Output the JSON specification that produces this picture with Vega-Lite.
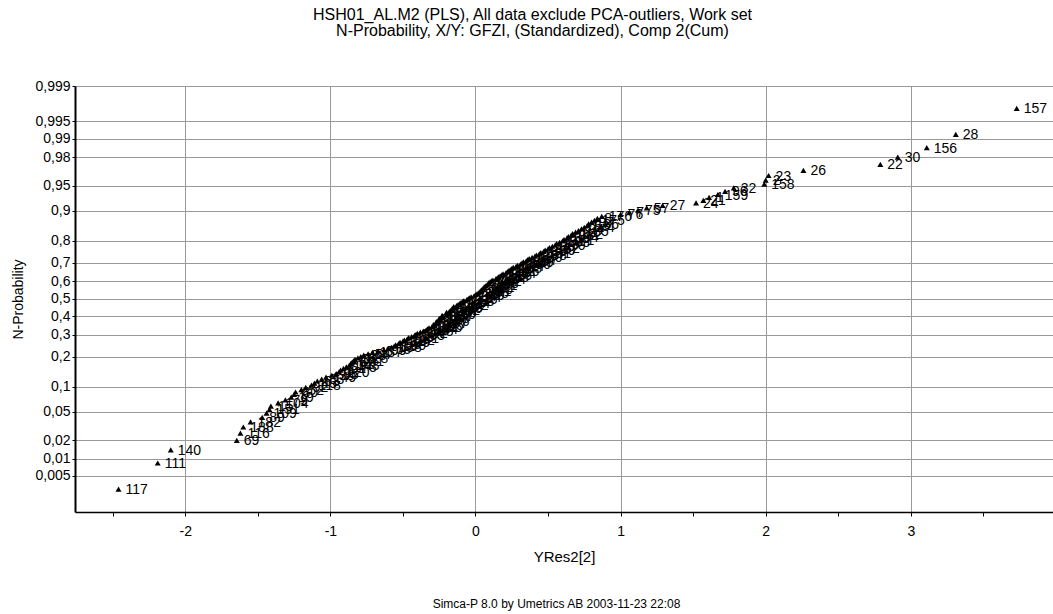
{
"$schema": "https://vega.github.io/schema/vega-lite/v6.json",
"width": 978,
"height": 426,
"autosize": {"type": "none"},
"padding": {"left": 75, "top": 86, "right": 0, "bottom": 102},
"background": "white",
"config": {"font": "Liberation Sans", "view": {"stroke": null}},
"title": {"text": ["HSH01_AL.M2 (PLS), All data exclude PCA-outliers, Work set", "N-Probability, X/Y: GFZI, (Standardized), Comp 2(Cum)"], "anchor": "middle", "frame": "bounds", "fontSize": 16, "fontWeight": "normal", "color": "black", "offset": 40, "lineHeight": 16},
"data": {"values": [
{"obs":"117","res":-2.46,"z":-2.767},{"obs":"111","res":-2.19,"z":-2.388},{"obs":"140","res":-2.10,"z":-2.196},{"obs":"69","res":-1.645,"z":-2.058},{"obs":"116","res":-1.62,"z":-1.953},
{"obs":"188","res":-1.60,"z":-1.865},{"obs":"182","res":-1.55,"z":-1.790},{"obs":"89","res":-1.47,"z":-1.724},{"obs":"109","res":-1.44,"z":-1.664},{"obs":"151","res":-1.42,"z":-1.610},
{"obs":"15","res":-1.41,"z":-1.560},{"obs":"104","res":-1.36,"z":-1.514},{"obs":"79","res":-1.31,"z":-1.471},{"obs":"19","res":-1.27,"z":-1.431},{"obs":"9","res":-1.25,"z":-1.392},
{"obs":"80","res":-1.24,"z":-1.356},{"obs":"52","res":-1.20,"z":-1.321},{"obs":"92","res":-1.17,"z":-1.288},{"obs":"118","res":-1.13,"z":-1.256},{"obs":"45","res":-1.11,"z":-1.226},
{"obs":"63","res":-1.09,"z":-1.196},{"obs":"83","res":-1.06,"z":-1.168},{"obs":"149","res":-1.03,"z":-1.140},{"obs":"38","res":-0.99,"z":-1.113},{"obs":"95","res":-0.96,"z":-1.088},
{"obs":"120","res":-0.94,"z":-1.062},{"obs":"5","res":-0.93,"z":-1.038},{"obs":"61","res":-0.91,"z":-1.014},{"obs":"173","res":-0.89,"z":-0.990},{"obs":"143","res":-0.87,"z":-0.967},
{"obs":"12","res":-0.86,"z":-0.945},{"obs":"67","res":-0.85,"z":-0.923},{"obs":"101","res":-0.84,"z":-0.902},{"obs":"37","res":-0.83,"z":-0.881},{"obs":"128","res":-0.81,"z":-0.860},
{"obs":"4","res":-0.79,"z":-0.840},{"obs":"98","res":-0.77,"z":-0.820},{"obs":"54","res":-0.74,"z":-0.800},{"obs":"137","res":-0.71,"z":-0.781},{"obs":"6","res":-0.67,"z":-0.762},
{"obs":"99","res":-0.63,"z":-0.743},{"obs":"55","res":-0.60,"z":-0.724},{"obs":"138","res":-0.58,"z":-0.706},{"obs":"10","res":-0.56,"z":-0.688},{"obs":"100","res":-0.55,"z":-0.670},
{"obs":"56","res":-0.53,"z":-0.652},{"obs":"139","res":-0.52,"z":-0.635},{"obs":"11","res":-0.50,"z":-0.618},{"obs":"102","res":-0.49,"z":-0.601},{"obs":"58","res":-0.47,"z":-0.584},
{"obs":"141","res":-0.46,"z":-0.567},{"obs":"13","res":-0.44,"z":-0.551},{"obs":"103","res":-0.42,"z":-0.534},{"obs":"59","res":-0.41,"z":-0.518},{"obs":"142","res":-0.40,"z":-0.502},
{"obs":"14","res":-0.38,"z":-0.486},{"obs":"105","res":-0.36,"z":-0.470},{"obs":"60","res":-0.34,"z":-0.454},{"obs":"144","res":-0.33,"z":-0.439},{"obs":"16","res":-0.32,"z":-0.423},
{"obs":"106","res":-0.30,"z":-0.408},{"obs":"62","res":-0.28,"z":-0.392},{"obs":"145","res":-0.29,"z":-0.377},{"obs":"17","res":-0.27,"z":-0.362},{"obs":"107","res":-0.26,"z":-0.347},
{"obs":"64","res":-0.27,"z":-0.332},{"obs":"146","res":-0.25,"z":-0.317},{"obs":"18","res":-0.24,"z":-0.302},{"obs":"108","res":-0.25,"z":-0.287},{"obs":"65","res":-0.23,"z":-0.272},
{"obs":"147","res":-0.22,"z":-0.258},{"obs":"20","res":-0.23,"z":-0.243},{"obs":"110","res":-0.20,"z":-0.229},{"obs":"66","res":-0.19,"z":-0.214},{"obs":"148","res":-0.20,"z":-0.200},
{"obs":"25","res":-0.18,"z":-0.185},{"obs":"112","res":-0.17,"z":-0.171},{"obs":"68","res":-0.16,"z":-0.157},{"obs":"150","res":-0.16,"z":-0.142},{"obs":"29","res":-0.14,"z":-0.128},
{"obs":"113","res":-0.15,"z":-0.114},{"obs":"70","res":-0.13,"z":-0.099},{"obs":"152","res":-0.12,"z":-0.085},{"obs":"31","res":-0.11,"z":-0.071},{"obs":"114","res":-0.10,"z":-0.057},
{"obs":"71","res":-0.09,"z":-0.042},{"obs":"153","res":-0.08,"z":-0.028},{"obs":"33","res":-0.06,"z":-0.014},{"obs":"115","res":-0.05,"z":0.000},{"obs":"72","res":-0.04,"z":0.014},
{"obs":"154","res":-0.03,"z":0.028},{"obs":"34","res":-0.01,"z":0.042},{"obs":"119","res":0.00,"z":0.057},{"obs":"73","res":0.01,"z":0.071},{"obs":"155","res":0.02,"z":0.085},
{"obs":"35","res":0.03,"z":0.099},{"obs":"121","res":0.04,"z":0.114},{"obs":"74","res":0.04,"z":0.128},{"obs":"160","res":0.05,"z":0.142},{"obs":"36","res":0.06,"z":0.157},
{"obs":"122","res":0.06,"z":0.171},{"obs":"77","res":0.07,"z":0.185},{"obs":"161","res":0.08,"z":0.200},{"obs":"39","res":0.09,"z":0.214},{"obs":"123","res":0.09,"z":0.229},
{"obs":"78","res":0.10,"z":0.243},{"obs":"162","res":0.11,"z":0.258},{"obs":"40","res":0.12,"z":0.272},{"obs":"124","res":0.14,"z":0.287},{"obs":"81","res":0.15,"z":0.302},
{"obs":"163","res":0.16,"z":0.317},{"obs":"41","res":0.17,"z":0.332},{"obs":"125","res":0.18,"z":0.347},{"obs":"82","res":0.19,"z":0.362},{"obs":"164","res":0.21,"z":0.377},
{"obs":"42","res":0.22,"z":0.392},{"obs":"126","res":0.23,"z":0.408},{"obs":"84","res":0.24,"z":0.423},{"obs":"165","res":0.25,"z":0.439},{"obs":"43","res":0.26,"z":0.454},
{"obs":"127","res":0.28,"z":0.470},{"obs":"85","res":0.29,"z":0.486},{"obs":"166","res":0.31,"z":0.502},{"obs":"44","res":0.32,"z":0.518},{"obs":"129","res":0.33,"z":0.534},
{"obs":"86","res":0.35,"z":0.551},{"obs":"167","res":0.36,"z":0.567},{"obs":"46","res":0.37,"z":0.584},{"obs":"130","res":0.39,"z":0.601},{"obs":"87","res":0.41,"z":0.618},
{"obs":"168","res":0.42,"z":0.635},{"obs":"47","res":0.44,"z":0.652},{"obs":"131","res":0.45,"z":0.670},{"obs":"88","res":0.47,"z":0.688},{"obs":"169","res":0.48,"z":0.706},
{"obs":"48","res":0.50,"z":0.724},{"obs":"132","res":0.51,"z":0.743},{"obs":"90","res":0.53,"z":0.762},{"obs":"170","res":0.55,"z":0.781},{"obs":"49","res":0.56,"z":0.800},
{"obs":"133","res":0.58,"z":0.820},{"obs":"91","res":0.60,"z":0.840},{"obs":"171","res":0.61,"z":0.860},{"obs":"50","res":0.63,"z":0.881},{"obs":"134","res":0.64,"z":0.902},
{"obs":"93","res":0.66,"z":0.923},{"obs":"172","res":0.67,"z":0.945},{"obs":"51","res":0.69,"z":0.967},{"obs":"135","res":0.71,"z":0.990},{"obs":"94","res":0.73,"z":1.014},
{"obs":"174","res":0.75,"z":1.038},{"obs":"53","res":0.77,"z":1.062},{"obs":"136","res":0.78,"z":1.088},{"obs":"97","res":0.80,"z":1.113},{"obs":"175","res":0.82,"z":1.140},
{"obs":"8","res":0.84,"z":1.168},{"obs":"176","res":0.87,"z":1.196},{"obs":"76","res":1.00,"z":1.226},{"obs":"7","res":1.06,"z":1.256},{"obs":"75","res":1.12,"z":1.288},
{"obs":"57","res":1.18,"z":1.321},{"obs":"27","res":1.29,"z":1.356},{"obs":"24","res":1.52,"z":1.392},{"obs":"21","res":1.57,"z":1.430},{"obs":"1","res":1.61,"z":1.471},
{"obs":"159","res":1.67,"z":1.514},{"obs":"96","res":1.72,"z":1.560},{"obs":"32","res":1.78,"z":1.610},{"obs":"158","res":1.99,"z":1.664},{"obs":"2","res":2.00,"z":1.724},
{"obs":"23","res":2.02,"z":1.790},{"obs":"26","res":2.26,"z":1.865},{"obs":"22","res":2.79,"z":1.953},{"obs":"30","res":2.91,"z":2.058},{"obs":"156","res":3.11,"z":2.196},
{"obs":"28","res":3.31,"z":2.388},{"obs":"157","res":3.73,"z":2.767}
]},
"layer": [
{"mark": {"type": "point", "shape": "triangle-up", "filled": true, "size": 36, "color": "black", "opacity": 1},
 "encoding": {
  "x": {"field": "res", "type": "quantitative",
        "scale": {"domain": [-2.76, 3.98], "nice": false, "zero": false},
        "axis": {"values": [-2.5, -2, -1.5, -1, -0.5, 0, 0.5, 1, 1.5, 2, 2.5, 3, 3.5], "tickCount": 100,
                 "labelExpr": "datum.value % 1 === 0 ? '' + datum.value : ''",
                 "title": "YRes2[2]", "grid": true, "gridColor": "#999999", "gridWidth": 1,
                 "gridOpacity": {"condition": {"test": "datum.value % 1 !== 0", "value": 0}, "value": 1},
                 "domainColor": "black", "domainWidth": 1.5, "tickColor": "black", "tickSize": 4, "tickWidth": 1,
                 "labelFontSize": 14, "labelColor": "black", "labelPadding": 8, "labelFlush": false, "labelOverlap": false,
                 "titleFontSize": 15, "titleFontWeight": "normal", "titleColor": "black", "titlePadding": 11}},
  "y": {"field": "z", "type": "quantitative",
        "scale": {"domain": [-3.1, 3.091], "nice": false, "zero": false},
        "axis": {"values": [-2.5758, -2.3263, -2.0537, -1.6449, -1.2816, -0.8416, -0.5244, -0.2533, 0, 0.2533, 0.5244, 0.8416, 1.2816, 1.6449, 2.0537, 2.3263, 2.5758, 3.0902], "tickCount": 100,
                 "labelExpr": "replace(format(cumulativeNormal(datum.value), '.3~f'), '.', ',')",
                 "title": "N-Probability", "grid": true, "gridColor": "#999999", "gridWidth": 1,
                 "domainColor": "black", "domainWidth": 2, "tickColor": "black", "tickSize": 3, "tickWidth": 1,
                 "labelFontSize": 14, "labelColor": "black", "labelPadding": 2, "labelFlush": false, "labelOverlap": false,
                 "titleFontSize": 14, "titleFontWeight": "normal", "titleColor": "black", "titlePadding": 9}}
 }},
{"mark": {"type": "text", "align": "left", "baseline": "middle", "dx": 7, "dy": 1, "fontSize": 14, "color": "black"},
 "encoding": {
  "x": {"field": "res", "type": "quantitative",
        "axis": {"orient": "bottom", "title": "Simca-P 8.0 by Umetrics AB 2003-11-23 22:08", "labels": false, "ticks": false, "domain": false, "grid": false,
                 "titleFontSize": 12, "titleFontWeight": "normal", "titleColor": "black", "titlePadding": 86, "titleX": 481}},
  "y": {"field": "z", "type": "quantitative"},
  "text": {"field": "obs"}
 }}
],
"resolve": {"axis": {"x": "independent"}}
}
